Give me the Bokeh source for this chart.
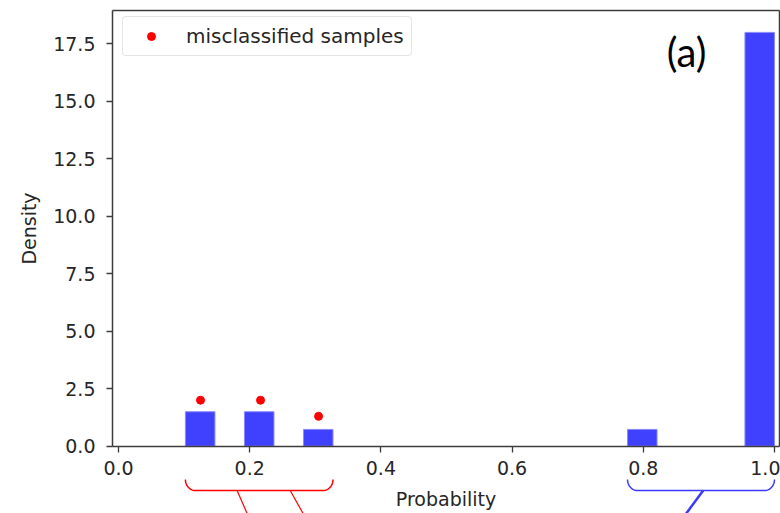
import numpy as np
from bokeh.plotting import figure
from bokeh.models import (Range1d, FixedTicker, PrintfTickFormatter,
                          Label, Legend, LinearAxis, ColumnDataSource)
from bokeh.embed import file_html
from bokeh.resources import INLINE

# ---- data ----
bin_left = [0.102, 0.192, 0.282, 0.776, 0.955]
bin_right = [0.147, 0.237, 0.327, 0.821, 1.0]
density = [1.5, 1.5, 0.73, 0.73, 18.0]
mis_x = [0.125, 0.2165, 0.305]
mis_y = [2.0, 2.0, 1.3]
x_ticks = [0.0, 0.2, 0.4, 0.6, 0.8, 1.0]
y_ticks = [0.0, 2.5, 5.0, 7.5, 10.0, 12.5, 15.0, 17.5]
legend_text = "misclassified samples"
panel_text = "(a)"
x_title = "Probability"
y_title = "Density"

FONT = "DejaVu Sans"
FS = "19px"
TXT = "#262626"
SPINE = "#3c3c3c"

# axes box (spines) in data units
AX_X0, AX_X1 = -0.00915, 1.0076
AX_Y0, AX_Y1 = 0.0, 18.95

# the frame covers the whole canvas so that tick labels and braces fit
p = figure(width=780, height=513, output_backend="svg", toolbar_location=None,
           x_range=Range1d(-0.1799, 1.0092), y_range=Range1d(-2.927, 19.387),
           x_axis_location=None, y_axis_location=None,
           min_border=0)
p.xgrid.visible = False
p.ygrid.visible = False
p.background_fill_color = "white"
p.border_fill_color = "white"
p.outline_line_color = None

src = ColumnDataSource(dict(left=bin_left, right=bin_right, top=density,
                            bottom=[0.0] * len(density)))
p.quad(left="left", right="right", top="top", bottom="bottom", source=src,
       fill_color="#4040ff", line_color="#8a8aff", line_width=1)

p.scatter(mis_x, mis_y, size=8, color="red", legend_label=legend_text)


def style_axis(ax):
    ax.axis_line_color = SPINE
    ax.axis_line_width = 1.5
    ax.major_tick_line_color = SPINE
    ax.major_tick_line_width = 1.3
    ax.major_tick_out = 6
    ax.major_tick_in = 0
    ax.minor_tick_line_color = None
    ax.major_label_text_font = FONT
    ax.major_label_text_font_size = FS
    ax.major_label_text_color = TXT
    ax.axis_label_text_font = FONT
    ax.axis_label_text_font_size = FS
    ax.axis_label_text_font_style = "normal"
    ax.axis_label_text_color = TXT
    ax.formatter = PrintfTickFormatter(format="%.1f")


# bottom spine / x axis
xax = LinearAxis(fixed_location=AX_Y0, ticker=FixedTicker(ticks=x_ticks),
                 axis_label=x_title, bounds=(AX_X0, AX_X1))
style_axis(xax)
xax.major_label_standoff = 9
xax.axis_label_standoff = 9
p.add_layout(xax, "below")

# left spine / y axis
yax = LinearAxis(fixed_location=AX_X0, ticker=FixedTicker(ticks=y_ticks),
                 axis_label=y_title, bounds=(AX_Y0, AX_Y1))
style_axis(yax)
yax.major_label_standoff = 11
yax.axis_label_standoff = 10
p.add_layout(yax, "left")

# top and right spines (plain lines, no ticks)
for loc, fx, bnds in (("above", AX_Y1, (AX_X0, AX_X1)),
                      ("right", AX_X1, (AX_Y0, AX_Y1))):
    sp = LinearAxis(fixed_location=fx, bounds=bnds,
                    ticker=FixedTicker(ticks=[]), minor_tick_line_color=None,
                    major_tick_out=0, major_label_standoff=0,
                    axis_line_color=SPINE, axis_line_width=1.5)
    p.add_layout(sp, loc)

leg = p.legend[0]
leg.location = (122, 457)
leg.margin = 0
leg.padding = 7
leg.glyph_width = 42
leg.glyph_height = 20
leg.label_standoff = 14
leg.label_text_font = FONT
leg.label_text_font_size = "20px"
leg.label_text_color = TXT
leg.border_line_color = "#cccccc"
leg.border_line_width = 1
leg.background_fill_alpha = 0.8
if "border_radius" in Legend.properties():
    leg.border_radius = 4

p.add_layout(Label(x=0.866, y=17.15, text=panel_text, text_font="Lato",
                   text_font_size="40px", text_color="black",
                   text_align="center", text_baseline="middle"))

# ---- braces below the axis ----
y_top, y_mid, y_end = -1.45, -1.93, -3.2
rx = 0.0152


def brace_path(x0, x1, n=14):
    t = np.linspace(0, np.pi / 2, n)
    h = y_top - y_mid
    lx = list(x0 + rx - rx * np.cos(t))
    ly = list(y_top - h * np.sin(t))
    t2 = t[::-1]
    rxs = list(x1 - rx + rx * np.cos(t2))
    rys = list(y_top - h * np.sin(t2))
    return lx + rxs, ly + rys


# red brace over the three low-probability bins
rx0, rx1 = bin_left[0], bin_right[2]
xs, ys = brace_path(rx0, rx1)
p.line(xs, ys, line_color="red", line_width=1.5)
for frac, dx in ((0.35, 0.0195), (0.71, 0.025)):
    xa = rx0 + frac * (rx1 - rx0)
    p.segment(x0=[xa], y0=[y_mid], x1=[xa + dx], y1=[y_end],
              line_color="red", line_width=1.2)

# blue brace over the two high-probability bins
bx0, bx1 = bin_left[3], bin_right[4]
xs, ys = brace_path(bx0, bx1)
p.line(xs, ys, line_color="#3a3aff", line_width=1.5)
xa = bx0 + 0.515 * (bx1 - bx0)
p.segment(x0=[xa], y0=[y_mid], x1=[xa - 0.033], y1=[y_end],
          line_color="#3a3aff", line_width=2.5)

open("out.html", "w").write(file_html(p, INLINE))
